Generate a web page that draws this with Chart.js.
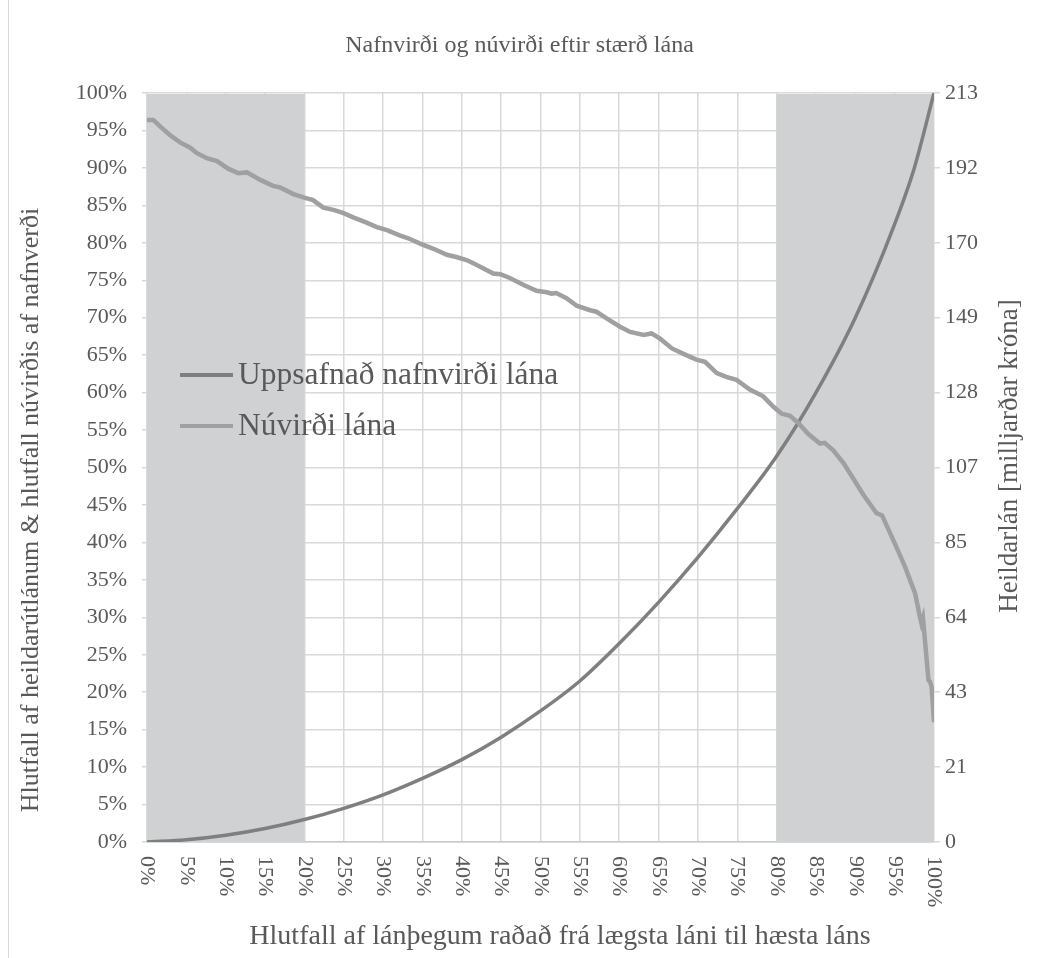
<!DOCTYPE html>
<html><head><meta charset="utf-8">
<script src="https://cdn.jsdelivr.net/npm/chart.js@4"></script>
<style>
html,body{margin:0;padding:0;background:#fff;}
#wrap{position:relative;width:1039px;height:958px;}
#frame{position:absolute;left:8px;top:0;width:1px;height:958px;background:#d9d9d9;}
</style></head><body>
<div id="wrap"><canvas id="c"></canvas><div id="frame"></div></div>
<script>
const chartTitle = 'Nafnvirði og núvirði eftir stærð lána';
const xAxisTitle = 'Hlutfall af lánþegum raðað frá lægsta láni til hæsta láns';
const leftAxisTitle = 'Hlutfall af heildarútlánum & hlutfall núvirðis af nafnverði';
const rightAxisTitle = 'Heildarlán [milljarðar króna]';
const seriesNames = ['Uppsafnað nafnvirði lána', 'Núvirði lána'];

const xTickValues = [0,5,10,15,20,25,30,35,40,45,50,55,60,65,70,75,80,85,90,95,100];
const leftTickValues = [0,5,10,15,20,25,30,35,40,45,50,55,60,65,70,75,80,85,90,95,100];
const rightTickLabels = ['0','21','43','64','85','107','128','149','170','192','213'];
const rightAxisMax = 213;
const shadedRanges = [[0,20],[80,100]];

const uppsafnadX = [0,5,10,15,20,25,30,35,40,45,50,55,60,65,70,75,80,85,90,95,97.5,100];
const uppsafnadY = [0,0.3,0.9,1.8,3.0,4.5,6.3,8.5,11.0,14.0,17.5,21.5,26.5,32.0,38.0,44.5,51.5,60.0,70.0,82.5,90.0,100];

const nuvirdiX = [0,0.8,1.7,2.9,4.2,5.5,6.3,7.6,8.9,10.3,11.6,12.7,14.4,16.0,16.9,18.6,20.1,21.1,22.4,23.7,24.9,26.2,27.9,29.2,30.5,32.1,33.2,34.7,36.4,38.1,39.3,40.6,41.4,42.7,44.0,44.9,46.1,47.8,49.5,50.8,51.4,52.0,53.3,54.6,56.3,57.1,58.4,60.1,61.4,63.1,64.1,65.2,66.7,68.1,69.8,70.9,72.4,73.6,74.9,76.6,78.3,79.6,80.6,81.7,82.8,84.0,85.5,86.1,87.2,88.5,89.7,91.0,92.7,93.4,95.0,96.3,97.6,98.2,98.4,98.6,99.3,99.5,99.7,100];
const nuvirdiY = [96.4,96.4,95.5,94.4,93.4,92.7,92.0,91.3,90.9,89.9,89.3,89.4,88.4,87.6,87.4,86.5,86.0,85.7,84.7,84.4,84.0,83.4,82.7,82.1,81.7,81.0,80.6,79.9,79.2,78.4,78.1,77.7,77.3,76.6,75.9,75.8,75.3,74.4,73.6,73.4,73.2,73.3,72.6,71.6,71.0,70.8,69.9,68.8,68.1,67.7,67.9,67.2,65.9,65.2,64.4,64.1,62.6,62.1,61.7,60.4,59.5,58.1,57.2,56.9,55.9,54.5,53.2,53.3,52.3,50.6,48.6,46.4,43.9,43.6,39.9,36.8,33.2,30.1,29.2,29.9,21.6,21.4,20.7,16.0];

const FONT = "'Liberation Serif', 'Times New Roman', serif";
const TXT = '#595959';
const colCum = '#7f7f7f';
const colNv = '#a0a0a2';

const shadePlugin = {
  id: 'shade',
  beforeDatasetsDraw(chart) {
    const {ctx, chartArea: ca, scales: {x}} = chart;
    ctx.save();
    ctx.fillStyle = '#d0d1d3';
    shadedRanges.forEach(([a, b]) => {
      const x0 = x.getPixelForValue(a), x1 = x.getPixelForValue(b);
      ctx.fillRect(x0, ca.top + 1, x1 - x0, ca.bottom - ca.top - 1);
    });
    ctx.restore();
  }
};

function drawRotated(ctx, text, cx, cy, angle) {
  ctx.save();
  ctx.translate(cx, cy);
  ctx.rotate(angle);
  ctx.fillText(text, 0, 0);
  ctx.restore();
}

const textPlugin = {
  id: 'texts',
  afterDraw(chart) {
    const {ctx, chartArea: ca, scales: {x}} = chart;
    ctx.save();
    ctx.fillStyle = TXT;
    ctx.font = '22px ' + FONT;
    ctx.textAlign = 'left';
    ctx.textBaseline = 'middle';
    xTickValues.forEach(v => drawRotated(ctx, v + '%', x.getPixelForValue(v), ca.bottom + 14, Math.PI / 2));
    ctx.textAlign = 'center';
    ctx.textBaseline = 'middle';
    ctx.font = '28px ' + FONT;
    ctx.fillText(xAxisTitle, 560, 937);
    ctx.font = '26px ' + FONT;
    drawRotated(ctx, leftAxisTitle, 31, 510, -Math.PI / 2);
    ctx.font = '27px ' + FONT;
    drawRotated(ctx, rightAxisTitle, 1010, 456, -Math.PI / 2);
    const x0 = 180, len = 53, ys = [375, 426];
    ctx.font = '31.5px ' + FONT;
    ctx.textAlign = 'left';
    chart.data.datasets.forEach((d, i) => {
      ctx.strokeStyle = d.borderColor;
      ctx.lineWidth = 4;
      ctx.beginPath();
      ctx.moveTo(x0, ys[i]);
      ctx.lineTo(x0 + len, ys[i]);
      ctx.stroke();
      ctx.fillText(d.label, x0 + len + 5, ys[i] + 1);
    });
    ctx.restore();
  }
};

new Chart(document.getElementById('c'), {
  type: 'line',
  data: {
    datasets: [
      {
        label: seriesNames[0],
        data: uppsafnadX.map((v, i) => ({x: v, y: uppsafnadY[i]})),
        borderColor: colCum, borderWidth: 3.5, pointRadius: 0,
        cubicInterpolationMode: 'monotone', yAxisID: 'y', order: 1
      },
      {
        label: seriesNames[1],
        data: nuvirdiX.map((v, i) => ({x: v, y: nuvirdiY[i]})),
        borderColor: colNv, borderWidth: 4.5, pointRadius: 0,
        tension: 0, yAxisID: 'y', order: 0
      }
    ]
  },
  options: {
    responsive: true, maintainAspectRatio: false, animation: false,
    layout: {padding: 0},
    plugins: {
      legend: {display: false},
      tooltip: {enabled: false},
      title: {
        display: true, text: chartTitle, color: TXT,
        font: {family: FONT, size: 24, weight: 'normal', lineHeight: 1.2},
        padding: {top: 31.6, bottom: 32.6}
      }
    },
    scales: {
      x: {
        type: 'linear', min: 0, max: 100,
        afterBuildTicks: s => { s.ticks = xTickValues.map(v => ({value: v})); },
        ticks: {display: false},
        grid: {color: '#d9d9d9', lineWidth: 1.5, drawTicks: false},
        border: {display: true, color: '#c9c9c9', width: 1.5},
        afterFit: s => { s.height = 116; }
      },
      y: {
        position: 'left', min: 0, max: 100,
        afterBuildTicks: s => { s.ticks = leftTickValues.map(v => ({value: v})); },
        ticks: {callback: v => v + '%', color: TXT, font: {family: FONT, size: 22}, padding: 15},
        grid: {color: '#d9d9d9', lineWidth: 1.5, tickLength: 5},
        border: {display: false},
        afterFit: s => { s.width = 147; }
      },
      y1: {
        position: 'right', min: 0, max: rightAxisMax,
        afterBuildTicks: s => { s.ticks = rightTickLabels.map((l, i) => ({value: i * rightAxisMax / 10})); },
        ticks: {callback: (v, i) => rightTickLabels[i], color: TXT, font: {family: FONT, size: 22}, padding: 5},
        grid: {drawOnChartArea: false, color: '#d9d9d9', lineWidth: 1.5, tickLength: 6},
        border: {display: false},
        afterFit: s => { s.width = 105; }
      }
    }
  },
  plugins: [shadePlugin, textPlugin]
});
</script>
</body></html>
